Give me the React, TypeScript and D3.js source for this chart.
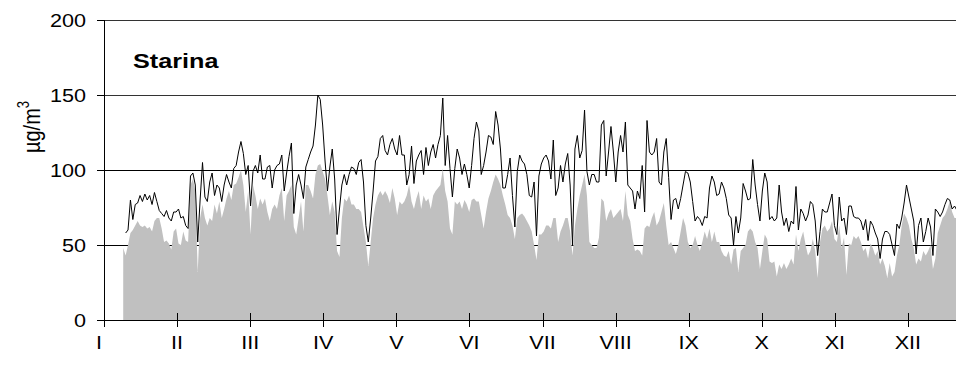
import * as d3 from "d3";

// daily PM10 (line) and PM2.5 (area), µg/m3, Starina
const pm10Start = 9;
const pm10 = [
  58, 60, 80, 67, 77, 78, 83, 79, 84, 80,
  83, 77, 85, 79, 73, 71, 69, 73, 68, 66,
  72, 72, 74, 68, 69, 63, 61, 96, 98, 90,
  52, 80, 105, 82, 79, 92, 98, 83, 90, 88,
  79, 90, 97, 92, 88, 101, 103, 112, 119, 111,
  97, 103, 76, 99, 103, 98, 110, 94, 94, 102,
  103, 88, 100, 103, 104, 110, 86, 98, 109, 118,
  71, 90, 97, 90, 81, 102, 107, 112, 116, 130,
  150, 147, 130, 106, 86, 102, 114, 94, 57, 74,
  90, 97, 90, 97, 102, 101, 97, 105, 107, 92,
  63, 52, 68, 86, 106, 109, 121, 123, 113, 110,
  117, 121, 114, 110, 123, 110, 110, 90, 97, 116,
  91, 106, 110, 113, 97, 115, 103, 112, 117, 108,
  117, 123, 148, 103, 123, 101, 82, 101, 114, 108,
  97, 104, 97, 88, 103, 121, 132, 126, 97, 103,
  112, 123, 122, 117, 139, 130, 114, 88, 88, 97,
  108, 83, 62, 99, 110, 106, 104, 97, 83, 82,
  92, 56, 96, 104, 108, 110, 106, 94, 120, 83,
  88, 103, 92, 104, 111, 90, 50, 114, 123, 108,
  113, 140, 99, 90, 97, 97, 92, 92, 130, 133,
  96, 112, 129, 112, 92, 112, 123, 112, 132, 90,
  88, 86, 74, 86, 81, 103, 72, 133, 112, 110,
  112, 121, 92, 90, 112, 121, 95, 67, 80, 81,
  74, 81, 90, 99, 98, 92, 79, 66, 69, 67,
  63, 69, 68, 88, 96, 92, 83, 84,
  92, 88, 81, 70, 68, 50, 69, 58, 68, 91,
  86, 80, 81, 107, 90, 77, 66, 86, 98, 92,
  67, 69, 66, 68, 90, 72, 63, 68, 59, 66,
  64, 89, 60, 74, 71, 66, 70, 79, 77, 66,
  43, 59, 74, 72, 72, 78, 84, 63, 57, 82,
  66, 68, 57, 76, 76, 69, 68, 68, 66, 60,
  67, 53, 66, 63, 58, 54, 41, 54, 59, 59,
  57, 50, 43, 64, 61, 68, 78, 90, 82, 74,
  66, 44, 63, 68, 52, 59, 68, 62, 43, 74,
  72, 69, 72, 77, 81, 80, 74, 76, 73,
];

const pm25Start = 8;
const pm25 = [
  48, 43, 50, 58, 60, 63, 66, 63, 62, 63,
  61, 62, 59, 66, 68, 68, 61, 52, 53, 51,
  47, 59, 61, 51, 50, 59, 53, 52, 90, 94,
  86, 32, 68, 77, 68, 63, 68, 66, 77, 71,
  79, 68, 74, 81, 86, 80, 90, 91, 95, 100,
  90, 72, 86, 57, 90, 83, 74, 81, 77, 81,
  72, 66, 74, 77, 74, 83, 88, 66, 83, 86,
  90, 62, 57, 68, 79, 59, 90, 90, 86, 81,
  97, 103, 104, 99, 94, 83, 70, 79, 72, 46,
  42, 68, 81, 79, 83, 77, 77, 74, 74, 72,
  62, 52, 36, 52,
  68, 77, 83, 86, 83, 86, 83, 78, 88, 81,
  70, 79, 77, 79, 83, 90, 79, 74, 81, 86,
  74, 83, 79, 81, 74, 83, 86, 88, 90, 101,
  86, 79, 61, 57, 79, 77, 79, 74, 80, 77,
  72, 80, 81, 79, 79,
  70, 61, 72, 81, 86, 92, 97, 94, 90, 83,
  77, 70, 68, 63, 54, 68, 70, 71, 69, 66,
  63, 59, 50, 40, 57, 57, 59, 63, 63, 61,
  68, 68, 52, 59, 63, 68, 68, 59, 43, 63,
  74, 83, 90, 97, 83, 52, 50, 48, 48, 55,
  81, 79, 66, 71, 74, 68, 70, 72, 74, 66,
  86, 70, 66, 54, 46, 47, 46, 43, 61, 63,
  62, 68, 72, 63, 66, 72, 78, 63, 50, 52,
  48, 44, 50, 59, 68, 63, 52, 48, 50, 56,
  50, 46, 52, 59, 54, 61, 52, 59, 52, 52,
  46, 43, 42, 46, 37, 47, 48, 32, 46, 48,
  50, 59, 61, 59, 52, 48, 34, 46, 57, 54,
  39, 38, 39, 29, 37, 34, 38, 34, 37, 41,
  37, 57, 46, 54, 59, 50, 43, 46, 54, 46,
  28, 52, 61, 63, 59, 61, 66, 54, 52, 63,
  48, 55, 30, 51, 50, 56, 54, 56, 52, 46,
  48, 41, 51, 48, 43, 46, 37, 41, 36, 28,
  38, 29, 32, 43, 50, 63, 71, 68, 63, 54,
  48, 37, 41, 39, 46, 43, 46, 50, 34, 41,
  58, 63, 68, 70, 74, 79, 72, 68, 68,
];

const months = ["I", "II", "III", "IV", "V", "VI", "VII", "VIII", "IX", "X", "XI", "XII"];
const yTicks = [0, 50, 100, 150, 200];
const stationName = "Starina";

const width = 956;
const height = 365;
const font = "'Liberation Sans', Arial, sans-serif";
const stretch = 1.2;

export default function App() {
  const x = d3.scaleLinear().domain([0, 365]).range([104, 981]);
  const y = d3.scaleLinear().domain([0, 200]).range([320, 20]);

  const line = d3.line<number>()
    .x((d, i) => x(pm10Start + i))
    .y(d => y(d));

  const area = d3.area<number>()
    .x((d, i) => x(pm25Start + i))
    .y0(y(0))
    .y1(d => y(d));

  const monthTicks = months.map((m, i) => ({ label: m, day: (i * 365) / 12 }));
  const x0 = x(0);

  return (
    <svg width={width} height={height} style={{ position: "absolute", left: 0, top: 0, background: "#fff" }}>
      {/* grid lines, behind the area */}
      {yTicks.filter(t => t > 0).map(t => (
        <line key={t} x1={x0} x2={width} y1={Math.round(y(t)) + 0.5} y2={Math.round(y(t)) + 0.5}
          stroke={t > 100 ? "#333" : "#000"} strokeWidth={1} />
      ))}

      <path d={area(pm25) ?? ""} fill="#c0c0c0" stroke="none" />
      <path d={line(pm10) ?? ""} fill="none" stroke="#000" strokeWidth={1} strokeLinejoin="round" />

      {/* y axis */}
      <line x1={x0 + 0.5} x2={x0 + 0.5} y1={y(200)} y2={y(0) + 7} stroke="#000" />
      {yTicks.map(t => (
        <g key={t}>
          <line x1={x0 - 7} x2={x0} y1={Math.round(y(t)) + 0.5} y2={Math.round(y(t)) + 0.5} stroke="#000" />
          <g transform={`translate(86, ${y(t) + 6.5}) scale(${stretch}, 1)`}>
            <text textAnchor="end" fontFamily={font} fontSize={18} fill="#000">{t}</text>
          </g>
        </g>
      ))}

      {/* x axis */}
      <line x1={x0 - 7} x2={width} y1={y(0) + 0.5} y2={y(0) + 0.5} stroke="#000" />
      {monthTicks.map((m, i) => (
        <g key={m.label}>
          <line x1={Math.round(x(m.day)) + 0.5} x2={Math.round(x(m.day)) + 0.5} y1={y(0) - 7} y2={y(0) + 7} stroke="#000" />
          <g transform={`translate(${x(m.day) - (i === 0 ? 5 : 0)}, 349) scale(${stretch}, 1)`}>
            <text textAnchor="middle" fontFamily={font} fontSize={18} fill="#000">{m.label}</text>
          </g>
        </g>
      ))}

      <g transform={`translate(40, 127) rotate(-90) scale(1, ${stretch})`}>
        <text textAnchor="middle" fontFamily={font} fontSize={20} fill="#000">
          µg/m<tspan fontSize={13} dy={-9}>3</tspan>
        </text>
      </g>

      <g transform={`translate(133, 68) scale(${stretch}, 1)`}>
        <text fontFamily={font} fontSize={21} fontWeight="bold" fill="#000">{stationName}</text>
      </g>
    </svg>
  );
}
